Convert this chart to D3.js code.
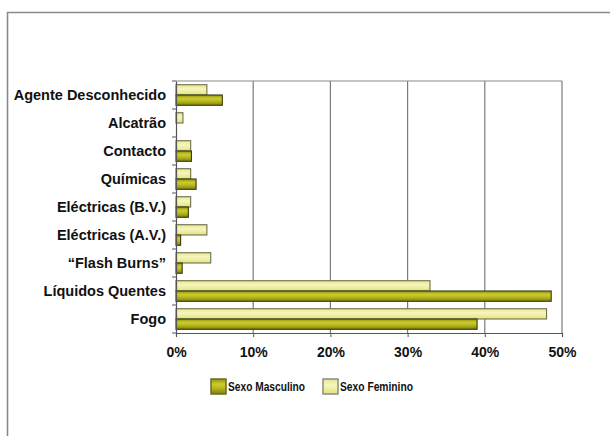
<!DOCTYPE html>
<html>
<head>
<meta charset="utf-8">
<script src="https://cdn.jsdelivr.net/npm/d3@7/dist/d3.min.js"></script>
<style>
  html, body { margin: 0; padding: 0; background: #fff; }
  svg { display: block; }
  text { font-family: "Liberation Sans", Arial, sans-serif; font-weight: bold; fill: #111; }
</style>
</head>
<body>
<svg id="chart" width="610" height="436"></svg>
<script>
// Burn causes, by sex (percentage of cases)
const categories = [
  "Agente Desconhecido", "Alcatrão", "Contacto", "Químicas",
  "Eléctricas (B.V.)", "Eléctricas (A.V.)", "\u201CFlash Burns\u201D",
  "Líquidos Quentes", "Fogo"
];
const masculino = [6.0, 0.0, 2.0, 2.6, 1.6, 0.6, 0.8, 48.6, 39.0];
const feminino  = [4.0, 0.9, 1.9, 1.9, 1.9, 4.0, 4.5, 32.9, 48.0];
const xTicks = [0, 10, 20, 30, 40, 50];
const seriesNames = ["Sexo Masculino", "Sexo Feminino"];

const svg = d3.select("#chart");
const plot = { left: 176, right: 562, top: 81, bottom: 333 };

// Gradients giving the bars their shaded look
const defs = svg.append("defs");
function vGrad(id, stops) {
  const g = defs.append("linearGradient").attr("id", id)
    .attr("x1", 0).attr("y1", 0).attr("x2", 0).attr("y2", 1);
  stops.forEach(([o, c]) => g.append("stop").attr("offset", o).attr("stop-color", c));
}
vGrad("gMasc", [[0, "#94940e"], [0.35, "#cccc30"], [0.6, "#b8b820"], [1, "#80800a"]]);
vGrad("gFem", [[0, "#e6e68c"], [0.4, "#f6f6bc"], [1, "#e2e282"]]);

// Outer frame
svg.append("path")
  .attr("d", "M7.5,436 V12.5 H610")
  .attr("fill", "none").attr("stroke", "#8a8a8a").attr("stroke-width", 1.6);

const x = d3.scaleLinear().domain([0, 50]).range([plot.left, plot.right]);
const y = d3.scaleBand().domain(categories).range([plot.top, plot.bottom]);
const sub = d3.scaleBand().domain(["f", "m"])
  .range([0, y.bandwidth()]).paddingOuter(0.36).paddingInner(0);

// Vertical gridlines
svg.append("g").selectAll("line").data(xTicks.filter(d => d > 0)).join("line")
  .attr("x1", d => x(d)).attr("x2", d => x(d))
  .attr("y1", plot.top).attr("y2", plot.bottom)
  .attr("stroke", "#7a7a7a").attr("stroke-width", 1.2);

// Top border
svg.append("line")
  .attr("x1", plot.left).attr("x2", plot.right)
  .attr("y1", plot.top).attr("y2", plot.top)
  .attr("stroke", "#8a8a8a").attr("stroke-width", 1.2);

// Bars
const rows = categories.map((c, i) => ({ c, f: feminino[i], m: masculino[i] }));
const g = svg.append("g");
rows.forEach(r => {
  [["f", r.f, "url(#gFem)", "#6f6f50"], ["m", r.m, "url(#gMasc)", "#3a3a10"]].forEach(([k, v, fill, stroke]) => {
    if (v <= 0) return;
    g.append("rect")
      .attr("x", x(0))
      .attr("y", y(r.c) + sub(k))
      .attr("width", x(v) - x(0))
      .attr("height", sub.bandwidth())
      .attr("fill", fill)
      .attr("stroke", stroke).attr("stroke-width", 1.1);
  });
});

// Y axis
const yAxis = svg.append("g").attr("transform", `translate(${plot.left},0)`)
  .call(d3.axisLeft(y).tickSize(0).tickPadding(10));
yAxis.select(".domain").attr("stroke", "#555").attr("stroke-width", 1.2);
yAxis.selectAll("text").attr("font-size", 14.5).attr("fill", "#111")
  .attr("font-family", "'Liberation Sans', Arial, sans-serif").attr("font-weight", "bold");
// small ticks at band boundaries
svg.append("g").selectAll("line").data(d3.range(categories.length + 1)).join("line")
  .attr("x1", plot.left - 4).attr("x2", plot.left)
  .attr("y1", i => plot.top + i * y.step()).attr("y2", i => plot.top + i * y.step())
  .attr("stroke", "#555").attr("stroke-width", 1);

// X axis
const xAxis = svg.append("g").attr("transform", `translate(0,${plot.bottom})`)
  .call(d3.axisBottom(x).tickValues(xTicks).tickFormat(d => d + "%").tickSize(4).tickPadding(10));
xAxis.select(".domain").attr("stroke", "#555").attr("stroke-width", 1.2);
xAxis.selectAll(".tick line").attr("stroke", "#555");
xAxis.selectAll("text").attr("font-size", 14).attr("fill", "#111")
  .attr("font-family", "'Liberation Sans', Arial, sans-serif").attr("font-weight", "bold");

// Legend
const legend = svg.append("g").attr("transform", "translate(211,379)");
const legendItems = [
  { name: seriesNames[0], fill: "url(#gMasc)", stroke: "#6a6a30", dx: 0, len: 77 },
  { name: seriesNames[1], fill: "url(#gFem)", stroke: "#8a8a8a", dx: 112, len: 73 }
];
legendItems.forEach(it => {
  const li = legend.append("g").attr("transform", `translate(${it.dx},0)`);
  li.append("rect").attr("width", 15).attr("height", 15)
    .attr("fill", it.fill).attr("stroke", it.stroke).attr("stroke-width", 1.5);
  li.append("text").attr("x", 17).attr("y", 12)
    .attr("font-size", 12)
    .attr("textLength", it.len).attr("lengthAdjust", "spacingAndGlyphs")
    .text(it.name);
});
</script>
</body>
</html>
